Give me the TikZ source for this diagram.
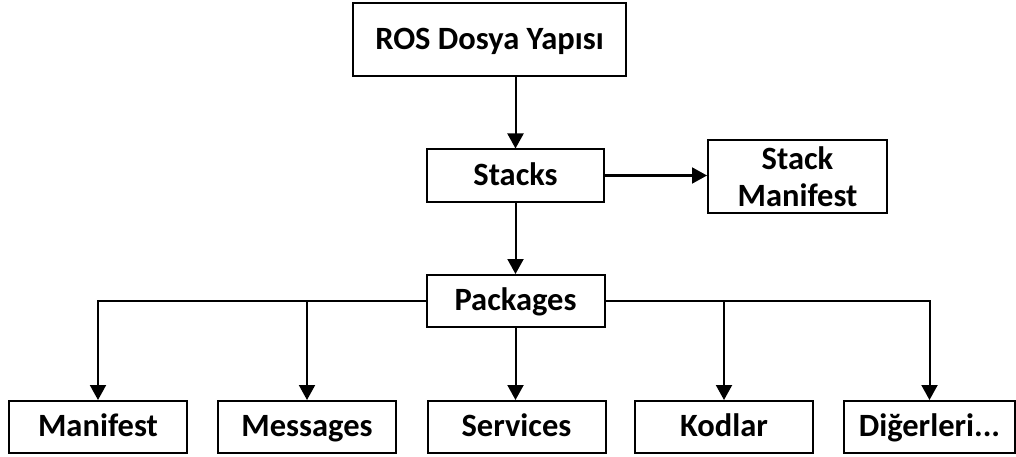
\documentclass[tikz,border=0pt]{standalone}
\usepackage{fontspec}
\setmainfont{Carlito}
\usetikzlibrary{arrows.meta}

\tikzset{
  box/.style={draw,line width=2pt,inner sep=0pt,minimum width=178pt,minimum height=52pt,
    font=\bfseries\fontsize{32.5}{37}\selectfont},
  onebox/.style={box,text height=26pt,text depth=6.6pt},
  twobox/.style={box,align=center},
  arr/.style={line width=2pt,-{Triangle[length=15pt,width=16pt]}}
}

\begin{document}
\begin{tikzpicture}[x=1pt,y=-1pt]
  \useasboundingbox (0,0) rectangle (1016,457);
  % levels
  \node[onebox,minimum width=273pt,minimum height=73pt] (ros) at (489.5,39.5) {ROS Dosya Yapısı};
  \node[onebox,minimum width=177pt] (stacks) at (515.5,175.5) {Stacks};
  \node[twobox,minimum width=179pt,minimum height=73pt] (stackman) at (797.5,176.5) {Stack\\Manifest};
  \node[onebox] (packages) at (515.5,301) {Packages};
  % leaves
  \node[onebox] (manifest) at (98,427) {Manifest};
  \node[onebox] (messages) at (307,427) {Messages};
  \node[onebox] (services) at (516.5,427) {Services};
  \node[onebox] (kodlar) at (724,427) {Kodlar};
  \node[onebox,minimum width=171pt] (diger) at (929.5,427) {Diğerleri...};

  \draw[arr] (stacks.north |- ros.south) -- (stacks.north);
  \draw[arr] (stacks.east) -- (stacks.east -| stackman.west);
  \draw[arr] (stacks.south) -- (packages.north);
  \draw[arr] (packages.west) -| (manifest.north);
  \draw[arr] (packages.west) -| (messages.north);
  \draw[arr] (packages.south) -- (packages.south |- services.north);
  \draw[arr] (packages.east) -| (kodlar.north);
  \draw[arr] (packages.east) -| (diger.north);
\end{tikzpicture}
\end{document}
